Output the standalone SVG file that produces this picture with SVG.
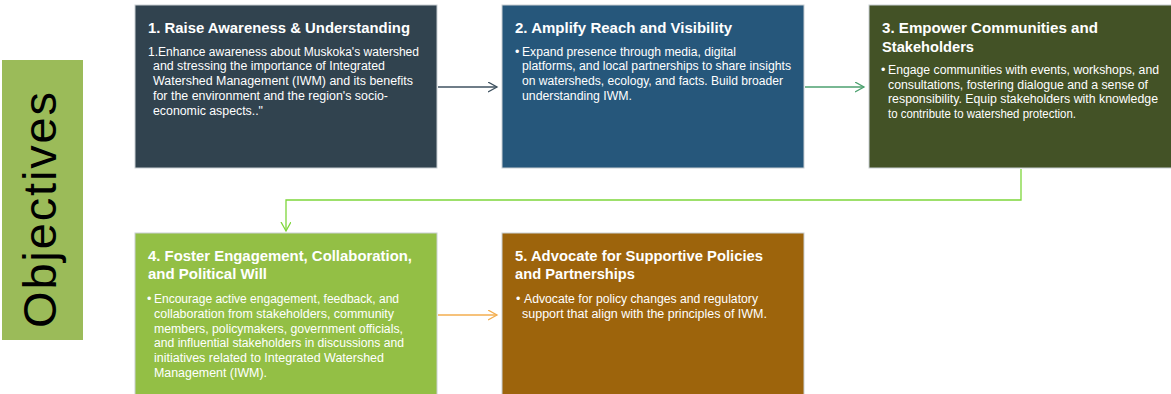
<svg xmlns="http://www.w3.org/2000/svg" width="1171" height="394" viewBox="0 0 1171 394">
<style>
text{font-family:"Liberation Sans",Arial,sans-serif;fill:#ffffff}
.t{font-size:15.5px;font-weight:bold}
.b{font-size:12.5px}
.box{stroke:#c9cfd3;stroke-width:1}
.obj{font-size:47px;fill:#000000}
.c{fill:none;stroke-width:1.3}
</style>
<defs>
<marker id="m1" markerUnits="userSpaceOnUse" markerWidth="12" markerHeight="12" refX="9" refY="5" orient="auto" viewBox="0 0 12 12"><path d="M0,0 L9,5 L0,10" fill="none" stroke="#3f5260" stroke-width="1.3"/></marker>
<marker id="m2" markerUnits="userSpaceOnUse" markerWidth="12" markerHeight="12" refX="9" refY="5" orient="auto" viewBox="0 0 12 12"><path d="M0,0 L9,5 L0,10" fill="none" stroke="#4ca16f" stroke-width="1.3"/></marker>
<marker id="m3" markerUnits="userSpaceOnUse" markerWidth="12" markerHeight="12" refX="9" refY="5" orient="auto" viewBox="0 0 12 12"><path d="M0,0 L9,5 L0,10" fill="none" stroke="#7ed63b" stroke-width="1.3"/></marker>
<marker id="m4" markerUnits="userSpaceOnUse" markerWidth="12" markerHeight="12" refX="9" refY="5" orient="auto" viewBox="0 0 12 12"><path d="M0,0 L9,5 L0,10" fill="none" stroke="#f3ae4f" stroke-width="1.3"/></marker>
</defs>
<rect width="1171" height="394" fill="#ffffff"/>

<g id="objectives">
<rect x="2" y="60" width="81" height="280" fill="#9bbb59"/>
<text class="obj" transform="translate(56,328) rotate(-90)" textLength="236" lengthAdjust="spacing">Objectives</text>
</g>

<g id="connectors">
<line class="c" x1="438" y1="87" x2="497" y2="87" stroke="#3f5260" marker-end="url(#m1)"/>
<line class="c" x1="805" y1="87" x2="864" y2="87" stroke="#4ca16f" marker-end="url(#m2)"/>
<path class="c" d="M1021,169 V200 H286 V231" stroke="#7ed63b" stroke-width="1.6" marker-end="url(#m3)"/>
<line class="c" x1="438" y1="315" x2="497" y2="315" stroke="#f3ae4f" marker-end="url(#m4)"/>
</g>

<g id="node1">
<rect class="box" x="135" y="5" width="302" height="163" fill="#31434f"/>
<text class="t" x="148" y="33.3" textLength="262" lengthAdjust="spacingAndGlyphs">1. Raise Awareness &amp; Understanding</text>
<text class="b" x="148" y="55.7" textLength="271" lengthAdjust="spacingAndGlyphs">1.Enhance awareness about Muskoka's watershed</text>
<text class="b" x="153" y="70.4" textLength="232" lengthAdjust="spacingAndGlyphs">and stressing the importance of Integrated</text>
<text class="b" x="153" y="85.1" textLength="260" lengthAdjust="spacingAndGlyphs">Watershed Management (IWM) and its benefits</text>
<text class="b" x="153" y="99.8" textLength="235" lengthAdjust="spacingAndGlyphs">for the environment and the region's socio-</text>
<text class="b" x="153" y="114.5" textLength="110" lengthAdjust="spacingAndGlyphs">economic aspects.."</text>
</g>

<g id="node2">
<rect class="box" x="502" y="5" width="302" height="163" fill="#26577b"/>
<text class="t" x="515" y="33.3" textLength="217" lengthAdjust="spacingAndGlyphs">2. Amplify Reach and Visibility</text>
<text class="b" x="515" y="55.7">•</text>
<text class="b" x="522" y="55.7" textLength="214" lengthAdjust="spacingAndGlyphs">Expand presence through media, digital</text>
<text class="b" x="522" y="70.4" textLength="269" lengthAdjust="spacingAndGlyphs">platforms, and local partnerships to share insights</text>
<text class="b" x="522" y="85.1" textLength="261" lengthAdjust="spacingAndGlyphs">on watersheds, ecology, and facts. Build broader</text>
<text class="b" x="522" y="99.8" textLength="110" lengthAdjust="spacingAndGlyphs">understanding IWM.</text>
</g>

<g id="node3">
<rect class="box" x="869" y="5" width="303" height="163" fill="#435226"/>
<text class="t" x="882" y="33.3" textLength="216" lengthAdjust="spacingAndGlyphs">3. Empower Communities and</text>
<text class="t" x="882" y="51.7" textLength="92" lengthAdjust="spacingAndGlyphs">Stakeholders</text>
<text class="b" x="881" y="74">•</text>
<text class="b" x="888" y="74" textLength="271" lengthAdjust="spacingAndGlyphs">Engage communities with events, workshops, and</text>
<text class="b" x="888" y="88.7" textLength="260" lengthAdjust="spacingAndGlyphs">consultations, fostering dialogue and a sense of</text>
<text class="b" x="888" y="103.4" textLength="270" lengthAdjust="spacingAndGlyphs">responsibility. Equip stakeholders with knowledge</text>
<text class="b" x="888" y="118.1" textLength="188" lengthAdjust="spacingAndGlyphs">to contribute to watershed protection.</text>
</g>

<g id="node4">
<rect class="box" x="135" y="233" width="302" height="163" fill="#93bf45"/>
<text class="t" x="148" y="260.7" textLength="264" lengthAdjust="spacingAndGlyphs">4. Foster Engagement, Collaboration,</text>
<text class="t" x="148" y="279.3" textLength="119" lengthAdjust="spacingAndGlyphs">and Political Will</text>
<text class="b" x="147" y="303.3">•</text>
<text class="b" x="154" y="303.3" textLength="245" lengthAdjust="spacingAndGlyphs">Encourage active engagement, feedback, and</text>
<text class="b" x="154" y="318" textLength="240" lengthAdjust="spacingAndGlyphs">collaboration from stakeholders, community</text>
<text class="b" x="154" y="332.7" textLength="249" lengthAdjust="spacingAndGlyphs">members, policymakers, government officials,</text>
<text class="b" x="154" y="347.4" textLength="250" lengthAdjust="spacingAndGlyphs">and influential stakeholders in discussions and</text>
<text class="b" x="154" y="362.1" textLength="230" lengthAdjust="spacingAndGlyphs">initiatives related to Integrated Watershed</text>
<text class="b" x="154" y="376.8" textLength="113" lengthAdjust="spacingAndGlyphs">Management (IWM).</text>
</g>

<g id="node5">
<rect class="box" x="502" y="233" width="302" height="163" fill="#9d640c"/>
<text class="t" x="515" y="260.7" textLength="248" lengthAdjust="spacingAndGlyphs">5. Advocate for Supportive Policies</text>
<text class="t" x="515" y="279.3" textLength="120" lengthAdjust="spacingAndGlyphs">and Partnerships</text>
<text class="b" x="516" y="303.3">•</text>
<text class="b" x="524" y="303.3" textLength="234" lengthAdjust="spacingAndGlyphs">Advocate for policy changes and regulatory</text>
<text class="b" x="522" y="318" textLength="245" lengthAdjust="spacingAndGlyphs">support that align with the principles of IWM.</text>
</g>
</svg>
